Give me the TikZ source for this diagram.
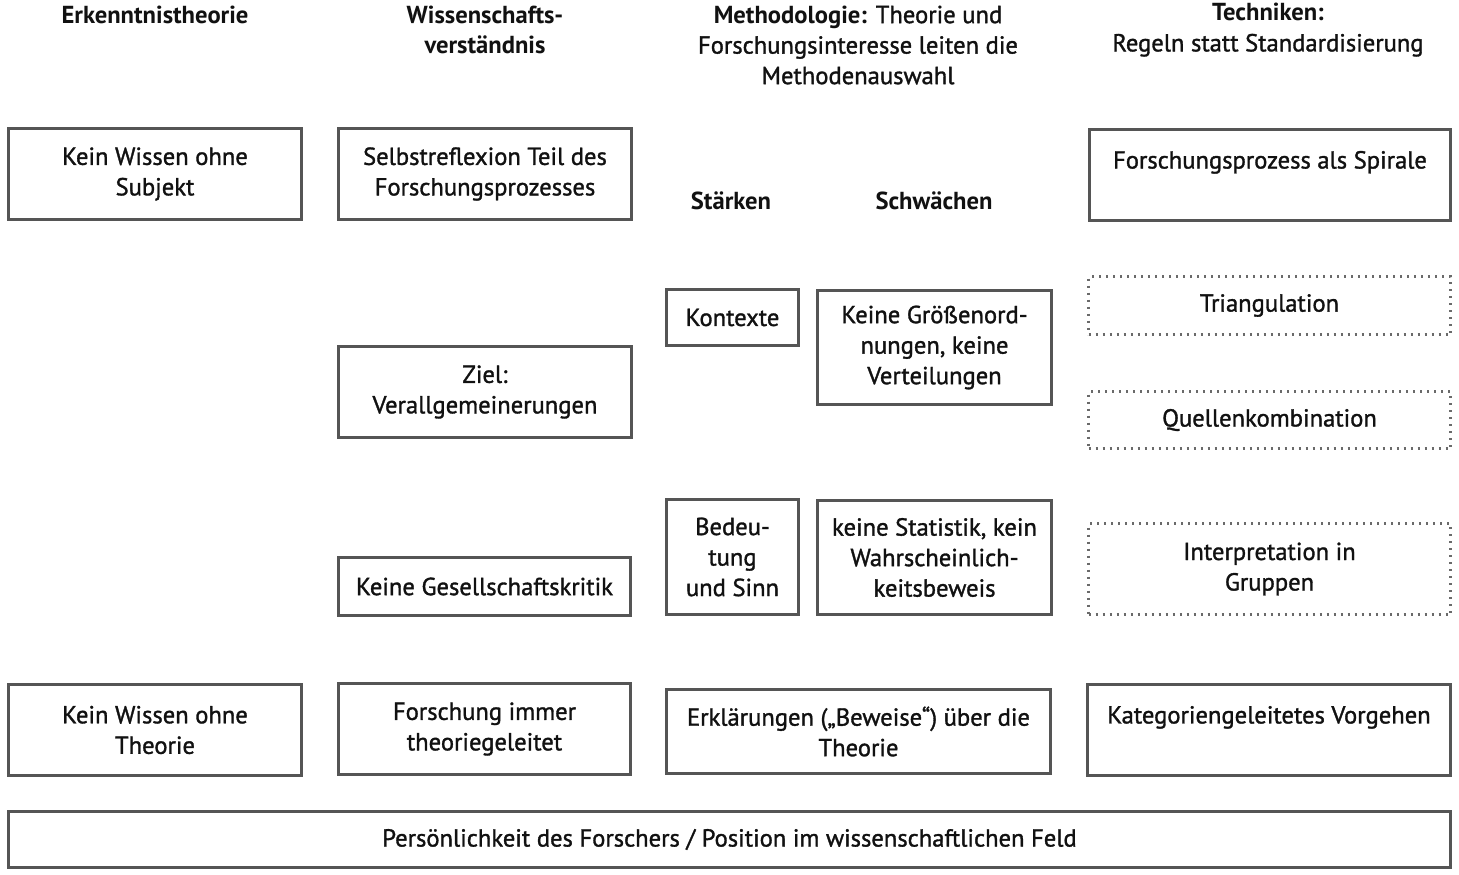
\documentclass[tikz,border=0pt]{standalone}
\usepackage{fontspec}
\setmainfont{PT Sans}[UprightFeatures={FakeBold=1.3}]
\definecolor{boxgray}{HTML}{555555}
\definecolor{dotgray}{HTML}{6A6A6A}
\definecolor{txt}{HTML}{111111}
\newcommand\fsz{\fontsize{24.6}{30.5}\selectfont}
\tikzset{
  box/.style={draw=boxgray, line width=2.8pt, align=center, inner sep=0pt, font=\fsz, text=txt},
  dbox/.style={box, draw=dotgray, line width=2.4pt, dash pattern=on 2pt off 5pt},
  hd/.style={align=center, font=\fsz, text=txt, inner sep=0pt},
}
\begin{document}
\begin{tikzpicture}[x=1pt, y=-1pt]
\useasboundingbox (0,0) rectangle (1459,875);
% headers
\node[hd] (h1) at (155,15) {\bfseries Erkenntnistheorie};
\node[hd] (h2) at (485,30) {\bfseries Wissenschafts-\\\bfseries verständnis};
\node[hd] (h3) at (858,45) {\textbf{Methodologie:} Theorie und\\Forschungsinteresse leiten die\\Methodenauswahl};
\node[hd] (h4) at (1268,30) {\textbf{Techniken:}\\Regeln statt Standardisierung};
\node[hd] (st) at (731,201) {\bfseries Stärken};
\node[hd] (sw) at (934,201) {\bfseries Schwächen};
% row 1
\node[box, minimum width=293pt, minimum height=91pt] (a1) at (155,174) {Kein Wissen ohne\\Subjekt};
\node[box, minimum width=293pt, minimum height=91pt] (b1) at (485,174) {Selbstreflexion Teil des\\Forschungsprozesses};
\node[box, minimum width=361pt, minimum height=91pt] (d1) at (1270,175) {Forschungsprozess als Spirale\\\mbox{}};
% row 2
\node[box, minimum width=132pt, minimum height=56pt] (c2a) at (732.5,317.5) {Kontexte};
\node[box, minimum width=234pt, minimum height=114pt] (c2b) at (934.5,347.5) {Keine Größenord-\\nungen, keine\\Verteilungen};
\node[dbox, minimum width=362pt, minimum height=58pt] (d2a) at (1269.5,305.5) {Triangulation};
\node[dbox, minimum width=362pt, minimum height=57pt] (d2b) at (1269.5,420) {Quellenkombination};
\node[box, minimum width=293pt, minimum height=91pt] (b2) at (485,392) {Ziel:\\Verallgemeinerungen};
% row 3
\node[box, minimum width=292pt, minimum height=58pt] (b3) at (484.5,586.5) {Keine Gesellschaftskritik};
\node[box, minimum width=132pt, minimum height=115pt] (c3a) at (732.5,557) {Bedeu-\\tung\\und Sinn};
\node[box, minimum width=234pt, minimum height=114pt] (c3b) at (934.5,557.5) {keine Statistik, kein\\Wahrscheinlich-\\keitsbeweis};
\node[dbox, minimum width=362pt, minimum height=91pt] (d3) at (1269.5,569) {Interpretation in\\Gruppen};
% row 4
\node[box, minimum width=293pt, minimum height=91pt] (a4) at (155,730) {Kein Wissen ohne\\Theorie};
\node[box, minimum width=292pt, minimum height=91pt] (b4) at (484.5,729) {Forschung immer\\theoriegeleitet};
\node[box, minimum width=384pt, minimum height=84pt] (c4) at (858.5,731.5) {Erklärungen („Beweise“) über die\\Theorie};
\node[box, minimum width=363pt, minimum height=91pt] (d4) at (1269,730) {Kategoriengeleitetes Vorgehen\\\mbox{}};
% bottom
\node[box, minimum width=1442pt, minimum height=56pt] (bot) at (729.5,839.5) {Persönlichkeit des Forschers / Position im wissenschaftlichen Feld};
\end{tikzpicture}
\end{document}
